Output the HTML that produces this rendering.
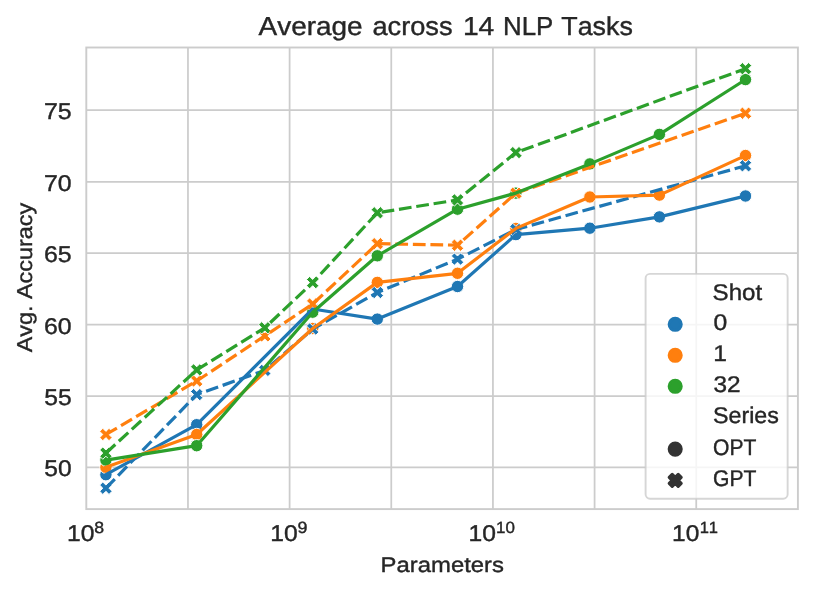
<!DOCTYPE html>
<html><head><meta charset="utf-8"><title>Average across 14 NLP Tasks</title>
<style>html,body{margin:0;padding:0;background:#fff;}body{width:813px;height:592px;overflow:hidden;font-family:"Liberation Sans",sans-serif;}</style>
</head><body>
<div id="chart" style="will-change:transform;width:813px;height:592px">
<svg width="813" height="592" viewBox="0 0 813 592" style="display:block">
<rect width="813" height="592" fill="#ffffff"/>
<path d="M187.96 47.5V509.1M289.61 47.5V509.1M391.27 47.5V509.1M492.93 47.5V509.1M594.59 47.5V509.1M696.24 47.5V509.1M86.3 467.30H797.9M86.3 396.00H797.9M86.3 324.70H797.9M86.3 253.15H797.9M86.3 181.75H797.9M86.3 110.10H797.9" stroke="#cccccc" stroke-width="1.75" fill="none"/>
<g stroke="#ffffff" stroke-width="0.96">
<circle cx="105.9" cy="474.7" r="6.2" fill="#1f77b4"/>
<circle cx="105.9" cy="467.3" r="6.2" fill="#ff7f0e"/>
<circle cx="105.9" cy="460.1" r="6.2" fill="#2ca02c"/>
<circle cx="196.7" cy="424.7" r="6.2" fill="#1f77b4"/>
<circle cx="196.7" cy="434.5" r="6.2" fill="#ff7f0e"/>
<circle cx="196.7" cy="445.7" r="6.2" fill="#2ca02c"/>
<circle cx="312.7" cy="309.0" r="6.2" fill="#1f77b4"/>
<circle cx="312.7" cy="328.5" r="6.2" fill="#ff7f0e"/>
<circle cx="312.7" cy="312.2" r="6.2" fill="#2ca02c"/>
<circle cx="377.3" cy="319.1" r="6.2" fill="#1f77b4"/>
<circle cx="377.3" cy="282.4" r="6.2" fill="#ff7f0e"/>
<circle cx="377.3" cy="255.8" r="6.2" fill="#2ca02c"/>
<circle cx="457.5" cy="286.5" r="6.2" fill="#1f77b4"/>
<circle cx="457.5" cy="273.3" r="6.2" fill="#ff7f0e"/>
<circle cx="457.5" cy="209.2" r="6.2" fill="#2ca02c"/>
<circle cx="515.9" cy="234.6" r="6.2" fill="#1f77b4"/>
<circle cx="515.9" cy="228.4" r="6.2" fill="#ff7f0e"/>
<circle cx="515.9" cy="193.1" r="6.2" fill="#2ca02c"/>
<circle cx="589.9" cy="228.2" r="6.2" fill="#1f77b4"/>
<circle cx="589.9" cy="197.0" r="6.2" fill="#ff7f0e"/>
<circle cx="589.9" cy="163.9" r="6.2" fill="#2ca02c"/>
<circle cx="659.4" cy="216.9" r="6.2" fill="#1f77b4"/>
<circle cx="659.4" cy="195.1" r="6.2" fill="#ff7f0e"/>
<circle cx="659.4" cy="134.4" r="6.2" fill="#2ca02c"/>
<circle cx="745.5" cy="196.0" r="6.2" fill="#1f77b4"/>
<circle cx="745.5" cy="155.5" r="6.2" fill="#ff7f0e"/>
<circle cx="745.5" cy="79.6" r="6.2" fill="#2ca02c"/>
<path d="M102.80 482.00 L105.90 485.10 L109.00 482.00 L112.10 485.10 L109.00 488.20 L112.10 491.30 L109.00 494.40 L105.90 491.30 L102.80 494.40 L99.70 491.30 L102.80 488.20 L99.70 485.10Z" fill="#1f77b4" stroke-linejoin="miter"/>
<path d="M102.80 428.30 L105.90 431.40 L109.00 428.30 L112.10 431.40 L109.00 434.50 L112.10 437.60 L109.00 440.70 L105.90 437.60 L102.80 440.70 L99.70 437.60 L102.80 434.50 L99.70 431.40Z" fill="#ff7f0e" stroke-linejoin="miter"/>
<path d="M102.80 446.90 L105.90 450.00 L109.00 446.90 L112.10 450.00 L109.00 453.10 L112.10 456.20 L109.00 459.30 L105.90 456.20 L102.80 459.30 L99.70 456.20 L102.80 453.10 L99.70 450.00Z" fill="#2ca02c" stroke-linejoin="miter"/>
<path d="M193.60 388.40 L196.70 391.50 L199.80 388.40 L202.90 391.50 L199.80 394.60 L202.90 397.70 L199.80 400.80 L196.70 397.70 L193.60 400.80 L190.50 397.70 L193.60 394.60 L190.50 391.50Z" fill="#1f77b4" stroke-linejoin="miter"/>
<path d="M193.60 374.80 L196.70 377.90 L199.80 374.80 L202.90 377.90 L199.80 381.00 L202.90 384.10 L199.80 387.20 L196.70 384.10 L193.60 387.20 L190.50 384.10 L193.60 381.00 L190.50 377.90Z" fill="#ff7f0e" stroke-linejoin="miter"/>
<path d="M193.60 363.70 L196.70 366.80 L199.80 363.70 L202.90 366.80 L199.80 369.90 L202.90 373.00 L199.80 376.10 L196.70 373.00 L193.60 376.10 L190.50 373.00 L193.60 369.90 L190.50 366.80Z" fill="#2ca02c" stroke-linejoin="miter"/>
<path d="M261.70 364.20 L264.80 367.30 L267.90 364.20 L271.00 367.30 L267.90 370.40 L271.00 373.50 L267.90 376.60 L264.80 373.50 L261.70 376.60 L258.60 373.50 L261.70 370.40 L258.60 367.30Z" fill="#1f77b4" stroke-linejoin="miter"/>
<path d="M261.70 329.70 L264.80 332.80 L267.90 329.70 L271.00 332.80 L267.90 335.90 L271.00 339.00 L267.90 342.10 L264.80 339.00 L261.70 342.10 L258.60 339.00 L261.70 335.90 L258.60 332.80Z" fill="#ff7f0e" stroke-linejoin="miter"/>
<path d="M261.70 321.60 L264.80 324.70 L267.90 321.60 L271.00 324.70 L267.90 327.80 L271.00 330.90 L267.90 334.00 L264.80 330.90 L261.70 334.00 L258.60 330.90 L261.70 327.80 L258.60 324.70Z" fill="#2ca02c" stroke-linejoin="miter"/>
<path d="M309.60 322.80 L312.70 325.90 L315.80 322.80 L318.90 325.90 L315.80 329.00 L318.90 332.10 L315.80 335.20 L312.70 332.10 L309.60 335.20 L306.50 332.10 L309.60 329.00 L306.50 325.90Z" fill="#1f77b4" stroke-linejoin="miter"/>
<path d="M309.60 297.80 L312.70 300.90 L315.80 297.80 L318.90 300.90 L315.80 304.00 L318.90 307.10 L315.80 310.20 L312.70 307.10 L309.60 310.20 L306.50 307.10 L309.60 304.00 L306.50 300.90Z" fill="#ff7f0e" stroke-linejoin="miter"/>
<path d="M309.60 276.40 L312.70 279.50 L315.80 276.40 L318.90 279.50 L315.80 282.60 L318.90 285.70 L315.80 288.80 L312.70 285.70 L309.60 288.80 L306.50 285.70 L309.60 282.60 L306.50 279.50Z" fill="#2ca02c" stroke-linejoin="miter"/>
<path d="M374.20 286.30 L377.30 289.40 L380.40 286.30 L383.50 289.40 L380.40 292.50 L383.50 295.60 L380.40 298.70 L377.30 295.60 L374.20 298.70 L371.10 295.60 L374.20 292.50 L371.10 289.40Z" fill="#1f77b4" stroke-linejoin="miter"/>
<path d="M374.20 237.50 L377.30 240.60 L380.40 237.50 L383.50 240.60 L380.40 243.70 L383.50 246.80 L380.40 249.90 L377.30 246.80 L374.20 249.90 L371.10 246.80 L374.20 243.70 L371.10 240.60Z" fill="#ff7f0e" stroke-linejoin="miter"/>
<path d="M374.20 206.60 L377.30 209.70 L380.40 206.60 L383.50 209.70 L380.40 212.80 L383.50 215.90 L380.40 219.00 L377.30 215.90 L374.20 219.00 L371.10 215.90 L374.20 212.80 L371.10 209.70Z" fill="#2ca02c" stroke-linejoin="miter"/>
<path d="M454.40 252.90 L457.50 256.00 L460.60 252.90 L463.70 256.00 L460.60 259.10 L463.70 262.20 L460.60 265.30 L457.50 262.20 L454.40 265.30 L451.30 262.20 L454.40 259.10 L451.30 256.00Z" fill="#1f77b4" stroke-linejoin="miter"/>
<path d="M454.40 239.00 L457.50 242.10 L460.60 239.00 L463.70 242.10 L460.60 245.20 L463.70 248.30 L460.60 251.40 L457.50 248.30 L454.40 251.40 L451.30 248.30 L454.40 245.20 L451.30 242.10Z" fill="#ff7f0e" stroke-linejoin="miter"/>
<path d="M454.40 193.70 L457.50 196.80 L460.60 193.70 L463.70 196.80 L460.60 199.90 L463.70 203.00 L460.60 206.10 L457.50 203.00 L454.40 206.10 L451.30 203.00 L454.40 199.90 L451.30 196.80Z" fill="#2ca02c" stroke-linejoin="miter"/>
<path d="M512.80 223.30 L515.90 226.40 L519.00 223.30 L522.10 226.40 L519.00 229.50 L522.10 232.60 L519.00 235.70 L515.90 232.60 L512.80 235.70 L509.70 232.60 L512.80 229.50 L509.70 226.40Z" fill="#1f77b4" stroke-linejoin="miter"/>
<path d="M512.80 187.00 L515.90 190.10 L519.00 187.00 L522.10 190.10 L519.00 193.20 L522.10 196.30 L519.00 199.40 L515.90 196.30 L512.80 199.40 L509.70 196.30 L512.80 193.20 L509.70 190.10Z" fill="#ff7f0e" stroke-linejoin="miter"/>
<path d="M512.80 146.40 L515.90 149.50 L519.00 146.40 L522.10 149.50 L519.00 152.60 L522.10 155.70 L519.00 158.80 L515.90 155.70 L512.80 158.80 L509.70 155.70 L512.80 152.60 L509.70 149.50Z" fill="#2ca02c" stroke-linejoin="miter"/>
<path d="M742.40 159.60 L745.50 162.70 L748.60 159.60 L751.70 162.70 L748.60 165.80 L751.70 168.90 L748.60 172.00 L745.50 168.90 L742.40 172.00 L739.30 168.90 L742.40 165.80 L739.30 162.70Z" fill="#1f77b4" stroke-linejoin="miter"/>
<path d="M742.40 107.00 L745.50 110.10 L748.60 107.00 L751.70 110.10 L748.60 113.20 L751.70 116.30 L748.60 119.40 L745.50 116.30 L742.40 119.40 L739.30 116.30 L742.40 113.20 L739.30 110.10Z" fill="#ff7f0e" stroke-linejoin="miter"/>
<path d="M742.40 62.50 L745.50 65.60 L748.60 62.50 L751.70 65.60 L748.60 68.70 L751.70 71.80 L748.60 74.90 L745.50 71.80 L742.40 74.90 L739.30 71.80 L742.40 68.70 L739.30 65.60Z" fill="#2ca02c" stroke-linejoin="miter"/>
</g>
<g fill="none" stroke-width="3.19" stroke-linejoin="round">
<polyline points="105.9,474.7 196.7,424.7 312.7,309.0 377.3,319.1 457.5,286.5 515.9,234.6 589.9,228.2 659.4,216.9 745.5,196.0" stroke="#1f77b4" stroke-linecap="square"/>
<polyline points="105.9,488.2 196.7,394.6 264.8,370.4 312.7,329.0 377.3,292.5 457.5,259.1 515.9,229.5 745.5,165.8" stroke="#1f77b4" stroke-dasharray="12.76 4.79"/>
<polyline points="105.9,467.3 196.7,434.5 312.7,328.5 377.3,282.4 457.5,273.3 515.9,228.4 589.9,197.0 659.4,195.1 745.5,155.5" stroke="#ff7f0e" stroke-linecap="square"/>
<polyline points="105.9,434.5 196.7,381.0 264.8,335.9 312.7,304.0 377.3,243.7 457.5,245.2 515.9,193.2 745.5,113.2" stroke="#ff7f0e" stroke-dasharray="12.76 4.79"/>
<polyline points="105.9,460.1 196.7,445.7 312.7,312.2 377.3,255.8 457.5,209.2 515.9,193.1 589.9,163.9 659.4,134.4 745.5,79.6" stroke="#2ca02c" stroke-linecap="square"/>
<polyline points="105.9,453.1 196.7,369.9 264.8,327.8 312.7,282.6 377.3,212.8 457.5,199.9 515.9,152.6 745.5,68.7" stroke="#2ca02c" stroke-dasharray="12.76 4.79"/>
</g>
<rect x="86.3" y="47.5" width="711.60" height="461.60" fill="none" stroke="#cccccc" stroke-width="1.9"/>
<rect x="645.6" y="273.9" width="142.05" height="224.80" rx="4.4" ry="4.4" fill="#ffffff" fill-opacity="0.8" stroke="#cccccc" stroke-opacity="0.8" stroke-width="1.9"/>
<circle cx="675.2" cy="324.30" r="6.0" fill="#1f77b4" stroke="#1f77b4" stroke-width="3.1"/>
<circle cx="675.2" cy="355.30" r="6.0" fill="#ff7f0e" stroke="#ff7f0e" stroke-width="3.1"/>
<circle cx="675.2" cy="386.30" r="6.0" fill="#2ca02c" stroke="#2ca02c" stroke-width="3.1"/>
<circle cx="675.2" cy="449.10" r="6.0" fill="#333333" stroke="#333333" stroke-width="3.1"/>
<path d="M672.20 474.40 L675.20 477.40 L678.20 474.40 L681.20 477.40 L678.20 480.40 L681.20 483.40 L678.20 486.40 L675.20 483.40 L672.20 486.40 L669.20 483.40 L672.20 480.40 L669.20 477.40Z" fill="#333333" stroke="#333333" stroke-width="3.1" stroke-linejoin="round"/>
<g font-family="Liberation Sans, sans-serif" fill="#262626" stroke="#262626" stroke-width="0.38" text-rendering="geometricPrecision" style="font-kerning:none">
<text x="712.61" y="299.5" font-size="22.7" textLength="49.57" lengthAdjust="spacingAndGlyphs" >Shot</text>
<text x="713.44" y="330.4" font-size="22.7" textLength="13.73" lengthAdjust="spacingAndGlyphs" >0</text>
<text x="713.33" y="361.4" font-size="22.7" textLength="13.67" lengthAdjust="spacingAndGlyphs" >1</text>
<text x="713.47" y="392.4" font-size="22.7" textLength="27.16" lengthAdjust="spacingAndGlyphs" >32</text>
<text x="713.05" y="423.4" font-size="22.7" textLength="65.79" lengthAdjust="spacingAndGlyphs" >Series</text>
<text x="713.10" y="454.5" font-size="22.7" textLength="43.28" lengthAdjust="spacingAndGlyphs" >OPT</text>
<text x="713.04" y="485.5" font-size="22.7" textLength="43.34" lengthAdjust="spacingAndGlyphs" >GPT</text>
<text x="258.55" y="34.9" font-size="26.0" textLength="104.10" lengthAdjust="spacingAndGlyphs" >Average</text>
<text x="372.44" y="34.9" font-size="26.0" textLength="80.14" lengthAdjust="spacingAndGlyphs" >across</text>
<text x="462.95" y="34.9" font-size="26.0" textLength="31.37" lengthAdjust="spacingAndGlyphs" >14</text>
<text x="502.98" y="34.9" font-size="26.0" textLength="50.28" lengthAdjust="spacingAndGlyphs" >NLP</text>
<text x="561.30" y="34.9" font-size="26.0" textLength="71.57" lengthAdjust="spacingAndGlyphs" >Tasks</text>
<text x="44.22" y="476.10" font-size="22.8" textLength="27.34" lengthAdjust="spacingAndGlyphs" >50</text>
<text x="44.21" y="404.80" font-size="22.8" textLength="27.42" lengthAdjust="spacingAndGlyphs" >55</text>
<text x="43.94" y="333.50" font-size="22.8" textLength="27.63" lengthAdjust="spacingAndGlyphs" >60</text>
<text x="43.93" y="261.95" font-size="22.8" textLength="27.71" lengthAdjust="spacingAndGlyphs" >65</text>
<text x="43.93" y="190.55" font-size="22.8" textLength="27.65" lengthAdjust="spacingAndGlyphs" >70</text>
<text x="43.92" y="118.90" font-size="22.8" textLength="27.72" lengthAdjust="spacingAndGlyphs" >75</text>
<text x="67.02" y="541.1" font-size="22.8" textLength="27.44" lengthAdjust="spacingAndGlyphs" >10</text>
<text x="94.23" y="533.3" font-size="16.2" textLength="9.84" lengthAdjust="spacingAndGlyphs" >8</text>
<text x="270.33" y="541.1" font-size="22.8" textLength="27.44" lengthAdjust="spacingAndGlyphs" >10</text>
<text x="297.47" y="533.3" font-size="16.2" textLength="9.99" lengthAdjust="spacingAndGlyphs" >9</text>
<text x="468.55" y="541.1" font-size="22.8" textLength="27.44" lengthAdjust="spacingAndGlyphs" >10</text>
<text x="496.04" y="533.3" font-size="16.2" textLength="18.85" lengthAdjust="spacingAndGlyphs" >10</text>
<text x="672.08" y="541.1" font-size="22.8" textLength="27.22" lengthAdjust="spacingAndGlyphs" >10</text>
<text x="699.69" y="533.3" font-size="16.2" textLength="18.36" lengthAdjust="spacingAndGlyphs" >11</text>
<text x="380.64" y="572.1" font-size="21.3" textLength="123.32" lengthAdjust="spacingAndGlyphs" >Parameters</text>
<g transform="translate(31.7 352.3) rotate(-90)"><text x="-0.05" y="0" font-size="21.6" textLength="149.59" lengthAdjust="spacingAndGlyphs" >Avg. Accuracy</text></g>
</g>
</svg>
</div>
</body></html>
